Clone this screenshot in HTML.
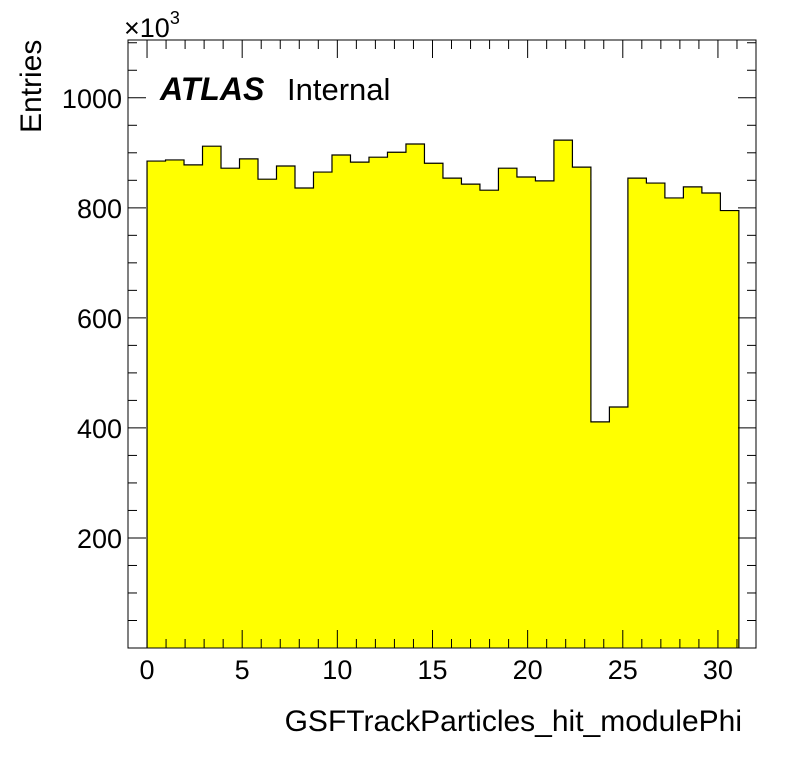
<!DOCTYPE html>
<html><head><meta charset="utf-8"><style>
body{margin:0;background:#fff;}
svg text{font-family:"Liberation Sans",sans-serif;}
</style></head><body>
<svg width="796" height="772" xmlns="http://www.w3.org/2000/svg">
<g id="bars"></g>
<g id="axes"></g>
<text x="160" y="100" font-size="32" font-weight="bold" font-style="italic">ATLAS</text>
<text x="287" y="100" font-size="31">Internal</text>
<text x="742" y="731" font-size="30" text-anchor="end">GSFTrackParticles_hit_modulePhi</text>
<text transform="translate(41,133) rotate(-90)" font-size="30">Entries</text>
<text x="124" y="37" font-size="27">×10<tspan dy="-13" font-size="18">3</tspan></text>
</svg>
<script>
const binValues=[885,887,878,912,872,889,852,876,836,865,896,883,892,901,916,881,854,843,832,872,856,849,923,874,411,438,854,845,818,838,827,795];
const binLow=0, binHigh=31.1;
const yTicks=[200,400,600,800,1000];
const xTicks=[0,5,10,15,20,25,30];
const X0=128,X1=756,Y0=648,Y1=40, xmin=-1,xmax=32,ymin=0,ymax=1105;
const sx=v=>X0+(v-xmin)/(xmax-xmin)*(X1-X0);
const sy=v=>Y0-(v-ymin)/(ymax-ymin)*(Y0-Y1);
const NS="http://www.w3.org/2000/svg";
function mk(t,a,p){const e=document.createElementNS(NS,t);for(const k in a)e.setAttribute(k,a[k]);p.appendChild(e);return e;}
const bars=document.getElementById('bars'),axes=document.getElementById('axes');
const n=binValues.length,w=(binHigh-binLow)/n;
let d="M"+sx(binLow)+","+sy(0);
binValues.forEach((v,i)=>{
  const r=mk('rect',{x:sx(binLow+i*w),y:sy(v),width:sx(binLow+(i+1)*w)-sx(binLow+i*w)+0.5,height:sy(0)-sy(v),fill:'#ffff00'},bars);
  
  
  d+=" L"+sx(binLow+i*w)+","+sy(v)+" L"+sx(binLow+(i+1)*w)+","+sy(v);
});
d+=" L"+sx(binHigh)+","+sy(0);
const outline=mk('path',{d:d,fill:'none',stroke:'#000','stroke-width':1.2},bars);


const frame=mk('rect',{x:X0,y:Y1,width:X1-X0,height:Y0-Y1,fill:'none',stroke:'#000','stroke-width':1},axes);


for(let v=50;v<ymax;v+=50){
  const L=(v%200===0)?18:9,y=sy(v);
  mk('line',{x1:X0,x2:X0+L,y1:y,y2:y,stroke:'#000'},axes);
  mk('line',{x1:X1,x2:X1-L,y1:y,y2:y,stroke:'#000'},axes);
}
yTicks.forEach(v=>{
  const t=mk('text',{x:X0-6,y:sy(v)+10,'font-size':27,'text-anchor':'end'},axes);
  t.textContent=v;
  
  
});
for(let v=-1;v<=32;v++){
  const L=(v%5===0)?18:9,x=sx(v);
  mk('line',{x1:x,x2:x,y1:Y0,y2:Y0-L,stroke:'#000'},axes);
  mk('line',{x1:x,x2:x,y1:Y1,y2:Y1+L,stroke:'#000'},axes);
}
xTicks.forEach(v=>{
  const t=mk('text',{x:sx(v),y:679,'font-size':27,'text-anchor':'middle'},axes);
  t.textContent=v;
  
  
});
</script>
</body></html>
